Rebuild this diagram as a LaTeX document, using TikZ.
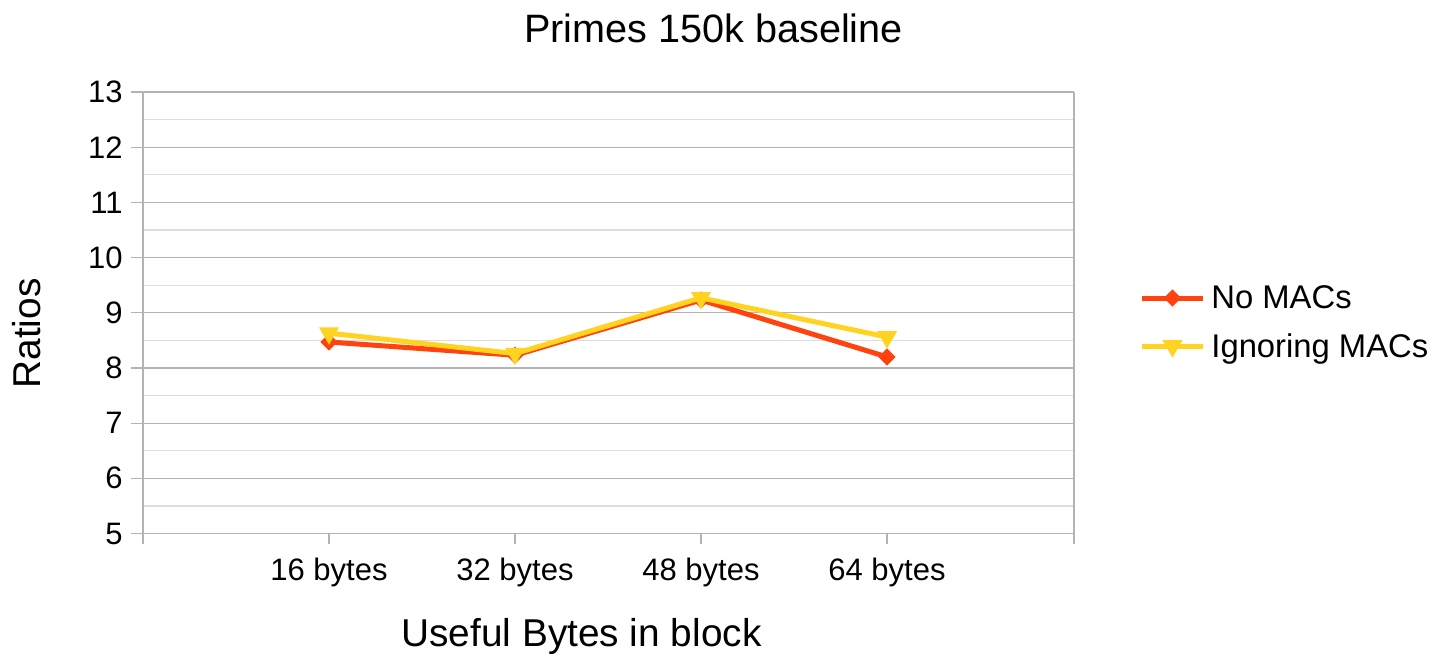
\documentclass[tikz,border=0pt]{standalone}
\usepackage{fontspec}
\setmainfont{Liberation Sans}
\usetikzlibrary{shapes.geometric}
\definecolor{serA}{HTML}{FF420E}
\definecolor{serB}{HTML}{FFD320}
\definecolor{gridmaj}{HTML}{B3B3B3}
\definecolor{gridmin}{HTML}{DDDDDD}
\begin{document}
\begin{tikzpicture}[x=0.5pt,y=-0.5pt,
  declare function={Y(\v)=533.5-(\v-5)*55.19;},
  lbl/.style={inner sep=0pt,font=\fontsize{15.5pt}{18pt}\selectfont},
  ttl/.style={inner sep=0pt,font=\fontsize{19.4pt}{23pt}\selectfont},
  leg/.style={inner sep=0pt,font=\fontsize{16.4pt}{19pt}\selectfont,anchor=base west},
  series/.style={line width=2.5pt,line join=round},
  dmark/.style={diamond,fill=serA,draw=none,inner sep=0pt,minimum width=8.8pt,minimum height=8.8pt},
  tmark/.style={regular polygon,regular polygon sides=3,shape border rotate=180,
                fill=serB,draw=none,inner sep=0pt,minimum size=11.6pt},
  majline/.style={draw=gridmaj,line width=0.6pt},
  minline/.style={draw=gridmin,line width=0.6pt}]
\useasboundingbox (0,0) rectangle (1448,655);

% minor grid at half units
\foreach \v in {5.5,6.5,...,12.5}
  \draw[minline] (143,{Y(\v)}) -- (1074,{Y(\v)});
% major grid, ticks and value labels
\foreach \v in {5,...,13} {
  \draw[majline] (131,{Y(\v)}) -- (1074,{Y(\v)});
  \node[lbl,anchor=east] (yl\v) at (123,{Y(\v)}) {\v};
}
% axes and frame
\draw[majline] (143,{Y(13)}) -- (143,544);
\draw[majline] (1074,{Y(13)}) -- (1074,544);
\foreach \x in {329,515,701,887}
  \draw[majline] (\x,{Y(5)}) -- (\x,544);

% category labels
\node[lbl,anchor=base] (c1) at (329,580) {16 bytes};
\node[lbl,anchor=base] (c2) at (515,580) {32 bytes};
\node[lbl,anchor=base] (c3) at (701,580) {48 bytes};
\node[lbl,anchor=base] (c4) at (887,580) {64 bytes};

% titles
\node[ttl,anchor=base,font=\fontsize{19.8pt}{23pt}\selectfont] (title) at (713.5,42) {Primes 150k baseline};
\node[ttl,anchor=base] (xt) at (581.5,646) {Useful Bytes in block};
\node[ttl,anchor=base,rotate=90] (yt) at (40,333.5) {Ratios};

% series: No MACs
\coordinate (a1) at (329,{Y(8.47)});
\coordinate (a2) at (515,{Y(8.23)});
\coordinate (a3) at (701,{Y(9.23)});
\coordinate (a4) at (887,{Y(8.20)});
\draw[series,serA] (a1) -- (a2) -- (a3) -- (a4);
\foreach \i in {1,...,4} \node[dmark] (ma\i) at (a\i) {};

% series: Ignoring MACs
\coordinate (b1) at (329,{Y(8.63)});
\coordinate (b2) at (515,{Y(8.26)});
\coordinate (b3) at (701,{Y(9.27)});
\coordinate (b4) at (887,{Y(8.56)});
\draw[series,serB] (b1) -- (b2) -- (b3) -- (b4);
\foreach \i in {1,...,4} \node[tmark] (mb\i) at (b\i) {};

% legend
\coordinate (la0) at (1142,298);
\coordinate (la1) at (1203,298);
\draw[series,serA] (la0) -- (la1);
\node[dmark] (lam) at (1172.5,298) {};
\node[leg] (lat) at (1211,308) {No MACs};
\coordinate (lb0) at (1142,346);
\coordinate (lb1) at (1203,346);
\draw[series,serB] (lb0) -- (lb1);
\node[tmark] (lbm) at (1172.5,346) {};
\node[leg] (lbt) at (1211,357) {Ignoring MACs};
\end{tikzpicture}
\end{document}
